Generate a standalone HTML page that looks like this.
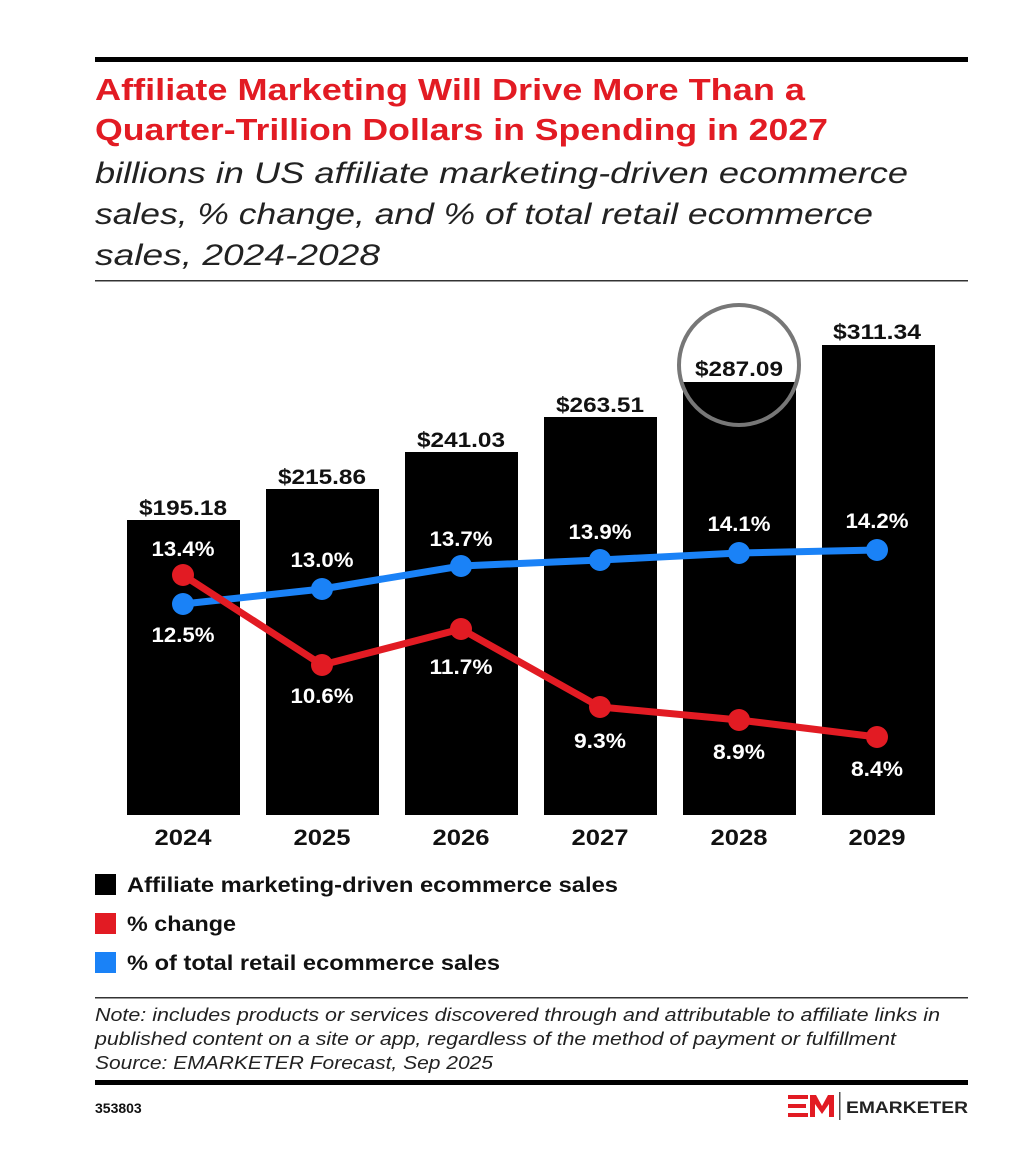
<!DOCTYPE html>
<html><head><meta charset="utf-8"><style>
body{margin:0;background:#fff;width:1011px;height:1152px;overflow:hidden;font-family:"Liberation Sans",sans-serif}
</style></head><body>
<svg width="1011" height="1152" viewBox="0 0 1011 1152" xmlns="http://www.w3.org/2000/svg" font-family="Liberation Sans, sans-serif">
<rect x="95" y="57" width="873" height="5" fill="#000"/>
<text x="95" y="100" font-size="31" font-weight="bold" fill="#e21b23" textLength="710" lengthAdjust="spacingAndGlyphs">Affiliate Marketing Will Drive More Than a</text>
<text x="95" y="140" font-size="31" font-weight="bold" fill="#e21b23" textLength="733" lengthAdjust="spacingAndGlyphs">Quarter-Trillion Dollars in Spending in 2027</text>
<g font-size="30" font-style="italic" fill="#222">
<text x="95" y="183" textLength="813" lengthAdjust="spacingAndGlyphs">billions in US affiliate marketing-driven ecommerce</text>
<text x="95" y="224" textLength="778" lengthAdjust="spacingAndGlyphs">sales, % change, and % of total retail ecommerce</text>
<text x="95" y="265" textLength="285" lengthAdjust="spacingAndGlyphs">sales, 2024-2028</text>
</g>
<rect x="95" y="280" width="873" height="1.5" fill="#333"/>
<g fill="#000">
<rect x="127" y="520" width="113" height="295"/>
<rect x="266" y="489" width="113" height="326"/>
<rect x="405" y="452" width="113" height="363"/>
<rect x="544" y="417" width="113" height="398"/>
<rect x="683" y="382" width="113" height="433"/>
<rect x="822" y="345" width="113" height="470"/>
</g>
<g font-size="21" font-weight="bold" text-anchor="middle" fill="#111" lengthAdjust="spacingAndGlyphs">
<text x="183" y="515" textLength="88" lengthAdjust="spacingAndGlyphs">$195.18</text>
<text x="322" y="484" textLength="88" lengthAdjust="spacingAndGlyphs">$215.86</text>
<text x="461" y="447" textLength="88" lengthAdjust="spacingAndGlyphs">$241.03</text>
<text x="600" y="412" textLength="88" lengthAdjust="spacingAndGlyphs">$263.51</text>
<text x="739" y="376" textLength="88" lengthAdjust="spacingAndGlyphs">$287.09</text>
<text x="877" y="339" textLength="88" lengthAdjust="spacingAndGlyphs">$311.34</text>
</g>
<circle cx="739" cy="365" r="60" fill="none" stroke="#777" stroke-width="4"/>
<polyline points="183,604 322,589 461,566 600,560 739,553 877,550" fill="none" stroke="#1a82f7" stroke-width="7"/>
<polyline points="183,575 322,665 461,629 600,707 739,720 877,737" fill="none" stroke="#e21b23" stroke-width="7"/>
<g fill="#1a82f7"><circle cx="183" cy="604" r="11"/><circle cx="322" cy="589" r="11"/><circle cx="461" cy="566" r="11"/><circle cx="600" cy="560" r="11"/><circle cx="739" cy="553" r="11"/><circle cx="877" cy="550" r="11"/></g>
<g fill="#e21b23"><circle cx="183" cy="575" r="11"/><circle cx="322" cy="665" r="11"/><circle cx="461" cy="629" r="11"/><circle cx="600" cy="707" r="11"/><circle cx="739" cy="720" r="11"/><circle cx="877" cy="737" r="11"/></g>
<g font-size="21" font-weight="bold" text-anchor="middle" fill="#fff">
<text x="183" y="556" textLength="63" lengthAdjust="spacingAndGlyphs">13.4%</text><text x="183" y="642" textLength="63" lengthAdjust="spacingAndGlyphs">12.5%</text>
<text x="322" y="567" textLength="63" lengthAdjust="spacingAndGlyphs">13.0%</text><text x="322" y="703" textLength="63" lengthAdjust="spacingAndGlyphs">10.6%</text>
<text x="461" y="546" textLength="63" lengthAdjust="spacingAndGlyphs">13.7%</text><text x="461" y="674" textLength="63" lengthAdjust="spacingAndGlyphs">11.7%</text>
<text x="600" y="539" textLength="63" lengthAdjust="spacingAndGlyphs">13.9%</text><text x="600" y="748" textLength="52" lengthAdjust="spacingAndGlyphs">9.3%</text>
<text x="739" y="531" textLength="63" lengthAdjust="spacingAndGlyphs">14.1%</text><text x="739" y="759" textLength="52" lengthAdjust="spacingAndGlyphs">8.9%</text>
<text x="877" y="528" textLength="63" lengthAdjust="spacingAndGlyphs">14.2%</text><text x="877" y="776" textLength="52" lengthAdjust="spacingAndGlyphs">8.4%</text>
</g>
<g font-size="22" font-weight="bold" text-anchor="middle" fill="#111">
<text x="183" y="845" textLength="57" lengthAdjust="spacingAndGlyphs">2024</text><text x="322" y="845" textLength="57" lengthAdjust="spacingAndGlyphs">2025</text><text x="461" y="845" textLength="57" lengthAdjust="spacingAndGlyphs">2026</text><text x="600" y="845" textLength="57" lengthAdjust="spacingAndGlyphs">2027</text><text x="739" y="845" textLength="57" lengthAdjust="spacingAndGlyphs">2028</text><text x="877" y="845" textLength="57" lengthAdjust="spacingAndGlyphs">2029</text>
</g>
<rect x="95" y="874" width="21" height="21" fill="#000"/>
<rect x="95" y="913" width="21" height="21" fill="#e21b23"/>
<rect x="95" y="952" width="21" height="21" fill="#1a82f7"/>
<g font-size="21" font-weight="bold" fill="#111">
<text x="127" y="892" textLength="491" lengthAdjust="spacingAndGlyphs">Affiliate marketing-driven ecommerce sales</text>
<text x="127" y="931" textLength="109" lengthAdjust="spacingAndGlyphs">% change</text>
<text x="127" y="970" textLength="373" lengthAdjust="spacingAndGlyphs">% of total retail ecommerce sales</text>
</g>
<rect x="95" y="997" width="873" height="1.5" fill="#333"/>
<g font-size="18" font-style="italic" fill="#222">
<text x="95" y="1021" textLength="845" lengthAdjust="spacingAndGlyphs">Note: includes products or services discovered through and attributable to affiliate links in</text>
<text x="95" y="1045" textLength="801" lengthAdjust="spacingAndGlyphs">published content on a site or app, regardless of the method of payment or fulfillment</text>
<text x="95" y="1069" textLength="398" lengthAdjust="spacingAndGlyphs">Source: EMARKETER Forecast, Sep 2025</text>
</g>
<rect x="95" y="1080" width="873" height="5" fill="#000"/>
<text x="95" y="1113" font-size="14" font-weight="bold" fill="#111">353803</text>
<g fill="#e21b23">
<rect x="788" y="1095" width="20" height="4"/><rect x="788" y="1104" width="18" height="4"/><rect x="788" y="1113" width="20" height="4"/>
<polygon points="810,1117 810,1095 816,1095 822,1106 828,1095 834,1095 834,1117 829,1117 829,1104 822,1114 815,1104 815,1117"/>
</g>
<rect x="839" y="1092" width="1.5" height="28" fill="#555"/>
<text x="846" y="1113" font-size="17" font-weight="bold" fill="#222" textLength="122" lengthAdjust="spacingAndGlyphs">EMARKETER</text>
</svg>
</body></html>
